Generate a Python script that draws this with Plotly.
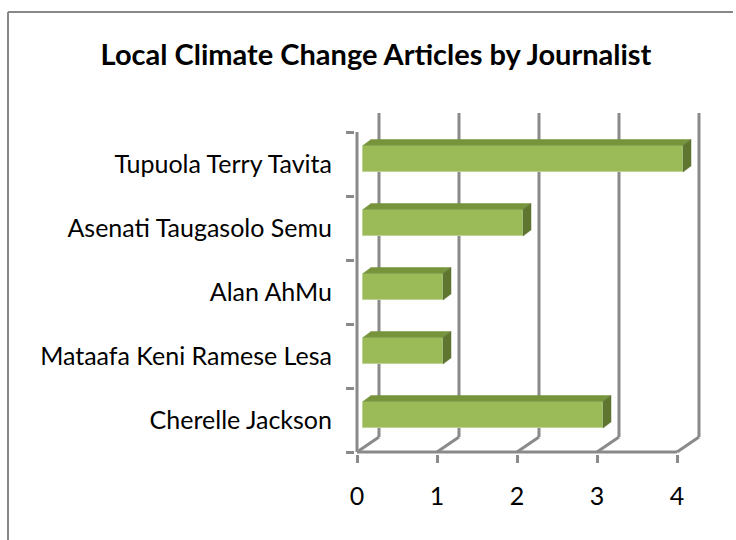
import plotly.graph_objects as go

# Articles per journalist (bottom to top)
journalists = [
    "Cherelle Jackson",
    "Mataafa Keni Ramese Lesa",
    "Alan AhMu",
    "Asenati Taugasolo Semu",
    "Tupuola Terry Tavita",
]
articles = [3, 1, 1, 2, 4]
x_ticks = [0, 1, 2, 3, 4]

# Pixel scale of the data axes
PX_X = 80.0   # px per article
PX_Y = 64.0   # px per category
W, H = 736, 540
M_L, M_R, M_T, M_B = 355, 16, 113, 86
X0 = -0.025
X1 = X0 + (W - M_L - M_R) / PX_X
Y0 = -0.5 - 2 / PX_Y
Y1 = Y0 + (H - M_T - M_B) / PX_Y

# Pseudo-3D depth of the back wall and of the bars
WALL_DX = 22 / PX_X
WALL_DY = 15 / PX_Y
BAR_DX = 6 / PX_X          # bar front face offset from the front axis
BAR_DDX = 8 / PX_X         # bar depth (horizontal)
BAR_DDY = 6 / PX_Y         # bar depth (vertical)
BAR_LOW = -8 / PX_Y
BAR_HIGH = 18.5 / PX_Y

GRID = "#8A8A8A"
FRONT = "#9BBB59"
TOP = "#77933C"
SIDE = "#5E7630"
FONT = "Lato"

fig = go.Figure()

# Top and side faces of each bar
for i, v in enumerate(articles):
    lo, hi = i + BAR_LOW, i + BAR_HIGH
    x_l, x_r = BAR_DX, BAR_DX + v
    fig.add_trace(go.Scatter(
        x=[x_l, x_r, x_r + BAR_DDX, x_l + BAR_DDX, x_l],
        y=[hi, hi, hi + BAR_DDY, hi + BAR_DDY, hi],
        mode="lines", fill="toself", fillcolor=TOP,
        line=dict(color=TOP, width=0.5), hoverinfo="skip", showlegend=False))
    fig.add_trace(go.Scatter(
        x=[x_r, x_r, x_r + BAR_DDX, x_r + BAR_DDX, x_r],
        y=[lo, hi, hi + BAR_DDY, lo + BAR_DDY, lo],
        mode="lines", fill="toself", fillcolor=SIDE,
        line=dict(color=SIDE, width=0.5), hoverinfo="skip", showlegend=False))

# Front faces
fig.add_trace(go.Bar(
    orientation="h",
    y=[i + (BAR_LOW + BAR_HIGH) / 2 for i in range(len(articles))],
    x=articles,
    base=BAR_DX,
    width=BAR_HIGH - BAR_LOW,
    marker=dict(color=FRONT, line=dict(color="#BDD391", width=1)),
    showlegend=False,
    hovertext=journalists,
))

shapes = []
line_style = dict(color=GRID, width=3)
n = len(journalists)
# Back wall gridlines and floor edges
for t in x_ticks:
    shapes.append(dict(type="line", xref="x", yref="y", layer="below",
                       x0=t + WALL_DX, x1=t + WALL_DX,
                       y0=-0.5 + WALL_DY, y1=Y1 + 1, line=line_style))
    shapes.append(dict(type="line", xref="x", yref="y", layer="below",
                       x0=t, x1=t + WALL_DX,
                       y0=-0.5, y1=-0.5 + WALL_DY, line=line_style))
# Front floor edge and category axis
shapes.append(dict(type="line", xref="x", yref="y", layer="below",
                   x0=0, x1=x_ticks[-1], y0=-0.5, y1=-0.5, line=line_style))
shapes.append(dict(type="line", xref="x", yref="y", layer="below",
                   x0=0, x1=0, y0=-0.5, y1=n - 0.5, line=line_style))


# Chart frame: left and top edges only, the rest lies outside the page
def px_to_paper_x(px):
    return (px - M_L) / (W - M_L - M_R)


def px_to_paper_y(py):
    return (H - M_B - py) / (H - M_T - M_B)


shapes.append(dict(type="line", xref="paper", yref="paper", layer="below",
                   x0=px_to_paper_x(8), x1=px_to_paper_x(8),
                   y0=px_to_paper_y(12), y1=px_to_paper_y(H),
                   line=dict(color="#888888", width=2)))
shapes.append(dict(type="line", xref="paper", yref="paper", layer="below",
                   x0=px_to_paper_x(8), x1=px_to_paper_x(W - 3),
                   y0=px_to_paper_y(12), y1=px_to_paper_y(12),
                   line=dict(color="#888888", width=2)))

fig.update_layout(
    width=W, height=H,
    margin=dict(l=M_L, r=M_R, t=M_T, b=M_B, pad=0),
    paper_bgcolor="white", plot_bgcolor="rgba(0,0,0,0)",
    shapes=shapes,
    bargap=0,
    title=dict(text="<b>Local Climate Change Articles by Journalist</b>",
               x=376 / W, xref="container", xanchor="center",
               y=1 - 55 / H, yref="container", yanchor="middle",
               font=dict(family=FONT, size=29, color="black")),
    font=dict(family=FONT, size=25, color="black"),
    xaxis=dict(range=[X0, X1], tickvals=x_ticks, ticktext=[str(t) for t in x_ticks],
               ticks="outside", ticklen=8, tickwidth=3, tickcolor=GRID,
               showgrid=False, zeroline=False, showline=False,
               ticklabelstandoff=12, tickfont=dict(size=25)),
    yaxis=dict(range=[Y0, Y1], tickvals=list(range(n)), ticktext=journalists,
               ticks="", showgrid=False, zeroline=False, showline=False,
               ticklabelstandoff=22, tickfont=dict(size=25),
               minor=dict(tickmode="array", tickvals=[k - 0.5 for k in range(n + 1)],
                          ticks="outside", ticklen=8, tickwidth=3, tickcolor=GRID,
                          showgrid=False)),
)

fig.write_html("out.html")
